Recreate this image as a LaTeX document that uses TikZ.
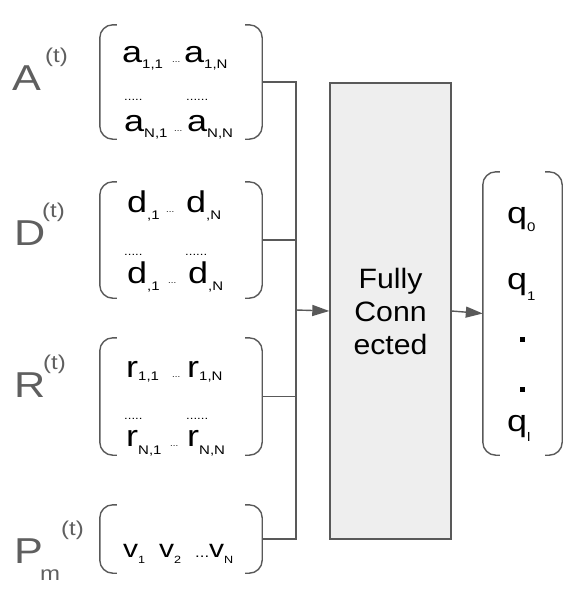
\documentclass[tikz,border=0pt]{standalone}
\usepackage{fontspec}
\setmainfont{Liberation Sans}
\newfontfamily\widefont[FakeStretch=1.2]{Liberation Sans}
\newfontfamily\boxfont[FakeStretch=1.08]{Liberation Sans}
\usetikzlibrary{positioning, arrows.meta}

\definecolor{linegray}{HTML}{595959}
\definecolor{labelgray}{HTML}{5F5F5F}
\definecolor{boxfill}{HTML}{EEEEEE}

\newcommand{\fs}[1]{\fontsize{#1}{#1}\selectfont}
% subscript, lowered
\newcommand{\lowsub}[2][7pt]{\raisebox{-#1}{\fs{12.5}#2}}

\begin{document}
\begin{tikzpicture}[x=1pt, y=-1pt,
  wire/.style={draw=linegray, line width=1.4pt},
  bracket/.style={draw=linegray, line width=1.4pt, rounded corners=13pt},
  frame/.style={inner sep=0pt, minimum width=162pt},
  entry/.style={anchor=base west, inner sep=0pt, font=\widefont\fs{30}},
  label/.style={anchor=base west, inner sep=0pt, text=labelgray, font=\widefont\fs{36}},
  suplabel/.style={anchor=base west, inner sep=0pt, text=labelgray, font=\widefont\fs{20}},
  dotrow/.style={anchor=base west, inner sep=0pt, font=\widefont\fs{11}},
  smalldots/.style={anchor=base west, inner sep=0pt, font=\widefont\fs{8}},
  square/.style={fill=black, inner sep=0pt, minimum size=5pt}]

\useasboundingbox (0,0) rectangle (582,600);

% labels
\node[label] (Alab) at (12,90) {A};
\node[suplabel] (Asup) at (45,62) {(t)};
\node[label] (Dlab) at (14,245) {D};
\node[suplabel] (Dsup) at (42,217) {(t)};
\node[label] (Rlab) at (14,397) {R};
\node[suplabel] (Rsup) at (43,369) {(t)};
\node[label] (Plab) at (14,563) {P};
\node[suplabel] (Pm) at (40,580) {m};
\node[suplabel] (Psup) at (61,535) {(t)};

% bracket frames
\node[frame, minimum height=114pt] (Abox) at (181,82) {};
\node[frame, minimum height=116pt] (Dbox) at (181,240) {};
\node[frame, minimum height=117pt] (Rbox) at (181,396.5) {};
\node[frame, minimum height=68pt] (Pbox) at (181,539) {};
\node[frame, minimum width=79pt, minimum height=283pt] (Qbox) at (522.5,313.5) {};
\foreach \m in {Abox, Dbox, Rbox, Pbox, Qbox} {
  \draw[bracket] ([xshift=17pt]\m.north west) -- (\m.north west) -- (\m.south west) -- ([xshift=17pt]\m.south west);
  \draw[bracket] ([xshift=-17pt]\m.north east) -- (\m.north east) -- (\m.south east) -- ([xshift=-17pt]\m.south east);
}

% A entries
\node[entry] (a11) at (122,62) {a\lowsub[6pt]{1,1}};
\node[smalldots] (adots1) at (172,62) {...};
\node[entry] (a1N) at (184,62) {a\lowsub[6pt]{1,N}};
\node[dotrow] (adots2) at (124,100) {.....};
\node[dotrow] (adots3) at (186,100) {......};
\node[entry] (aN1) at (124,131) {a\lowsub[6pt]{N,1}};
\node[smalldots] (adots4) at (174,131) {...};
\node[entry] (aNN) at (187,131) {a\lowsub[6pt]{N,N}};

% D entries
\node[entry] (d1) at (127,212) {d\lowsub{,1}};
\node[smalldots] (ddots1) at (166,212) {...};
\node[entry] (dN) at (186,212) {d\lowsub{,N}};
\node[dotrow] (ddots2) at (124,255) {.....};
\node[dotrow] (ddots3) at (185,255) {......};
\node[entry] (d1b) at (127,283) {d\lowsub{,1}};
\node[smalldots] (ddots4) at (168,283) {...};
\node[entry] (dNb) at (188,283) {d\lowsub{,N}};

% R entries
\node[entry] (r11) at (126,377) {r\lowsub[3pt]{1,1}};
\node[smalldots] (rdots1) at (172,377) {...};
\node[entry] (r1N) at (187,377) {r\lowsub[3pt]{1,N}};
\node[dotrow] (rdots2) at (124,419) {.....};
\node[dotrow] (rdots3) at (186,419) {......};
\node[entry] (rN1) at (126,446) {r\lowsub[8pt]{N,1}};
\node[smalldots] (rdots4) at (170,446) {...};
\node[entry] (rNN) at (187,446) {r\lowsub[8pt]{N,N}};

% P entries
\node[entry, font=\widefont\fs{25}] (v1) at (123,557) {v\lowsub[6pt]{\fs{10.5}1}};
\node[entry, font=\widefont\fs{25}] (v2) at (159,557) {v\lowsub[6pt]{\fs{10.5}2}};
\node[entry, font=\widefont\fs{25}] (vN) at (195,557) {\fs{14}...\fs{25}v\lowsub[6pt]{\fs{10.5}N}};

% outputs
\node[entry] (q0) at (507,223) {q\lowsub[8pt]{0}};
\node[entry] (q1) at (507,289) {q\lowsub[11pt]{1}};
\node[square] (dot1) at (522,339) {};
\node[square] (dot2) at (522,389) {};
\node[entry] (ql) at (507,431) {q\lowsub[10pt]{l}};

% fully connected layer
\node[draw=linegray, line width=1.4pt, fill=boxfill, minimum width=121pt, minimum height=456pt, inner sep=0pt,
  align=center, font=\boxfont\fs{28}] (fc) at (390.5,311) {Fully\\[5pt]Conn\\[5pt]ected};

% connectors
\coordinate (bustop) at (296,82);
\coordinate (busbot) at (296,539);
\coordinate (busmid) at (296,310);
\draw[wire] (Abox.east) -- (bustop) -- (busbot) -- (Pbox.east);
\draw[wire] (Dbox.east) -- (Dbox.east -| bustop);
\draw[wire] (Rbox.east) -- (Rbox.east -| bustop);
\draw[wire, -{Triangle[length=17pt, width=11pt]}] (busmid) -- (fc.west);
\draw[wire, -{Triangle[length=17pt, width=11pt]}] (fc.east) -- (Qbox.west);
\end{tikzpicture}
\end{document}
